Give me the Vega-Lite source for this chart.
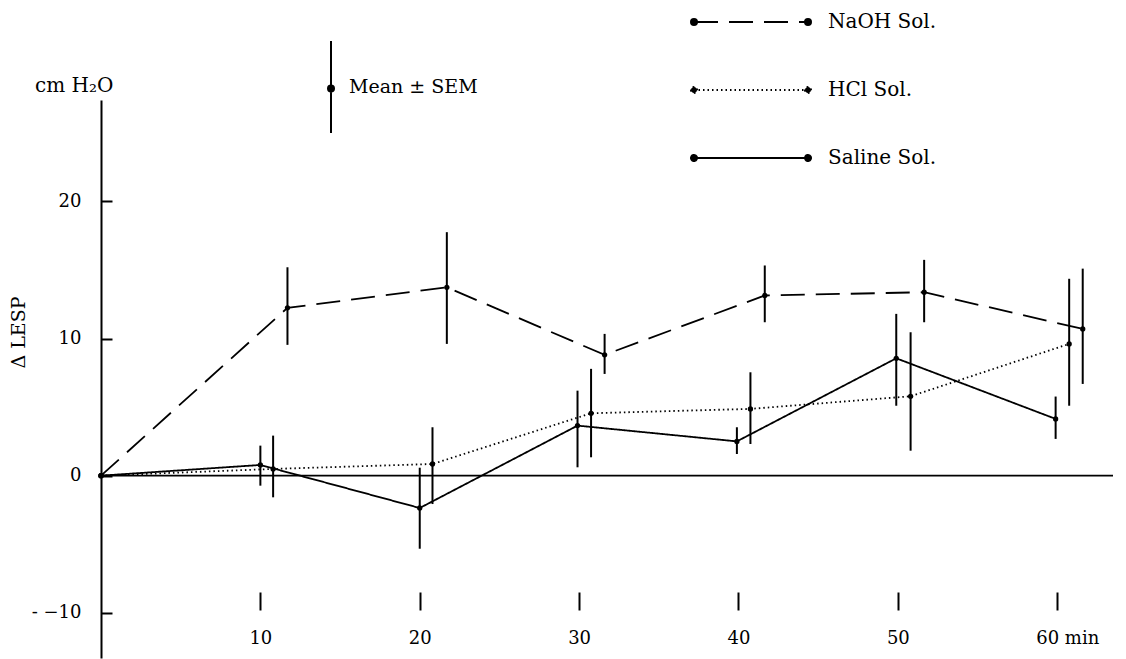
{
  "$schema": "https://vega.github.io/schema/vega-lite/v6.json",
  "width": 1012,
  "height": 558,
  "autosize": {"type": "none"},
  "padding": {"left": 101, "top": 100, "right": 13, "bottom": 1},
  "background": "white",
  "config": {
    "view": {"stroke": null},
    "font": "DejaVu Serif",
    "axis": {
      "labelFont": "DejaVu Serif",
      "labelFontSize": 18,
      "labelColor": "black",
      "domainColor": "black",
      "tickColor": "black",
      "grid": false
    }
  },
  "title": {
    "text": "cm H₂O",
    "anchor": "start",
    "frame": "group",
    "dx": -66,
    "offset": -101,
    "baseline": "alphabetic",
    "font": "DejaVu Serif",
    "fontSize": 20,
    "fontWeight": "normal",
    "color": "black"
  },
  "data": {
    "values": [
      {"series": "Saline Sol.", "t": 0, "mean": 0, "lo": null, "hi": null},
      {"series": "Saline Sol.", "t": 10.0, "mean": 0.78, "lo": -0.73, "hi": 2.19},
      {"series": "Saline Sol.", "t": 20.0, "mean": -2.36, "lo": -5.33, "hi": 0.58},
      {"series": "Saline Sol.", "t": 29.9, "mean": 3.65, "lo": 0.61, "hi": 6.2},
      {"series": "Saline Sol.", "t": 39.9, "mean": 2.5, "lo": 1.58, "hi": 3.53},
      {"series": "Saline Sol.", "t": 49.9, "mean": 8.56, "lo": 5.1, "hi": 11.8},
      {"series": "Saline Sol.", "t": 59.9, "mean": 4.14, "lo": 2.68, "hi": 5.77},
      {"series": "HCl Sol.", "t": 0, "mean": 0, "lo": null, "hi": null},
      {"series": "HCl Sol.", "t": 10.8, "mean": 0.49, "lo": -1.58, "hi": 2.92},
      {"series": "HCl Sol.", "t": 20.8, "mean": 0.85, "lo": -2.07, "hi": 3.53},
      {"series": "HCl Sol.", "t": 30.75, "mean": 4.55, "lo": 1.34, "hi": 7.79},
      {"series": "HCl Sol.", "t": 40.75, "mean": 4.87, "lo": 2.31, "hi": 7.54},
      {"series": "HCl Sol.", "t": 50.8, "mean": 5.79, "lo": 1.82, "hi": 10.46},
      {"series": "HCl Sol.", "t": 60.75, "mean": 9.61, "lo": 5.1, "hi": 14.36},
      {"series": "NaOH Sol.", "t": 0, "mean": 0, "lo": null, "hi": null},
      {"series": "NaOH Sol.", "t": 11.7, "mean": 12.24, "lo": 9.54, "hi": 15.2},
      {"series": "NaOH Sol.", "t": 21.7, "mean": 13.74, "lo": 9.61, "hi": 17.76},
      {"series": "NaOH Sol.", "t": 31.6, "mean": 8.81, "lo": 7.42, "hi": 10.34},
      {"series": "NaOH Sol.", "t": 41.65, "mean": 13.14, "lo": 11.19, "hi": 15.33},
      {"series": "NaOH Sol.", "t": 51.65, "mean": 13.38, "lo": 11.19, "hi": 15.74},
      {"series": "NaOH Sol.", "t": 61.6, "mean": 10.7, "lo": 6.69, "hi": 15.1}
    ]
  },
  "layer": [
    {
      "data": {"values": [{}]},
      "mark": {"type": "rule", "color": "black", "strokeWidth": 1.8},
      "encoding": {"y": {"datum": 0, "type": "quantitative"}}
    },
    {
      "mark": {"type": "line", "color": "black", "strokeWidth": 1.8},
      "encoding": {
        "x": {
          "field": "t",
          "type": "quantitative",
          "scale": {"domain": [0, 63.5], "nice": false, "zero": false},
          "axis": {
            "values": [10, 20, 30, 40, 50, 60],
            "domain": false,
            "offset": -66,
            "tickSize": 18,
            "tickWidth": 2,
            "labelPadding": 19,
            "labelFlush": false,
            "labelExpr": "datum.value == 60 ? '60  min' : datum.label",
            "labelOffset": {"condition": {"test": "datum.value == 60", "value": 10}, "value": 0},
            "title": null
          }
        },
        "y": {
          "field": "mean",
          "type": "quantitative",
          "scale": {"domain": [-13.3, 27.4], "nice": false, "zero": false},
          "axis": {
            "values": [-10, 0, 10, 20],
            "labelExpr": "datum.value == -10 ? '-  −10' : datum.label",
            "tickSize": -11,
            "tickWidth": 2,
            "domainWidth": 2,
            "labelPadding": 31,
            "title": "Δ LESP",
            "titleAngle": 270,
            "titleX": -83,
            "titleY": 232,
            "titleAlign": "center",
            "titleBaseline": "middle",
            "titleFont": "DejaVu Serif",
            "titleFontSize": 19,
            "titleFontWeight": "normal",
            "titleColor": "black"
          }
        },
        "strokeDash": {
          "field": "series",
          "type": "nominal",
          "scale": {
            "domain": ["NaOH Sol.", "HCl Sol.", "Saline Sol."],
            "range": [[24, 11], [1.5, 3], [1, 0]]
          },
          "legend": {
            "title": null,
            "orient": "none",
            "legendX": 639,
            "legendY": -89,
            "direction": "vertical",
            "padding": 0,
            "offset": 0,
            "symbolType": "M-5.7,0H5.7M-6,0a0.3,0.3 0 1,0 0.6,0a0.3,0.3 0 1,0 -0.6,0M5.4,0a0.3,0.3 0 1,0 0.6,0a0.3,0.3 0 1,0 -0.6,0",
            "symbolSize": 400,
            "symbolStrokeWidth": 2,
            "symbolStrokeColor": "black",
            "symbolFillColor": "black",
            "labelOffset": 66,
            "labelFont": "DejaVu Serif",
            "labelFontSize": 20,
            "labelColor": "black",
            "rowPadding": 47,
            "encode": {"symbols": {"update": {"fill": {"value": "black"}, "stroke": {"value": "black"}}}}
          }
        }
      }
    },
    {
      "transform": [
        {"filter": "datum.lo != null"},
        {"calculate": "'Mean ± SEM'", "as": "stat"}
      ],
      "mark": {"type": "rule", "strokeWidth": 2},
      "encoding": {
        "x": {"field": "t", "type": "quantitative"},
        "y": {"field": "lo", "type": "quantitative", "title": "Δ LESP"},
        "y2": {"field": "hi"},
        "color": {
          "field": "stat",
          "type": "nominal",
          "scale": {"range": ["black"]},
          "legend": {
            "title": null,
            "orient": "none",
            "legendX": 219,
            "legendY": -24,
            "padding": 0,
            "offset": 0,
            "symbolType": "M0,-4.6V4.6M-0.3,0.16a0.3,0.3 0 1,0 0.6,0a0.3,0.3 0 1,0 -0.6,0",
            "symbolSize": 400,
            "symbolStrokeWidth": 2,
            "labelOffset": 7,
            "labelFont": "DejaVu Serif",
            "labelFontSize": 19,
            "labelColor": "black",
            "encode": {"symbols": {"update": {"fill": {"value": "black"}, "stroke": {"value": "black"}}}}
          }
        }
      }
    },
    {
      "mark": {"type": "point", "filled": true, "size": 28, "color": "black", "opacity": 1},
      "encoding": {
        "x": {"field": "t", "type": "quantitative"},
        "y": {"field": "mean", "type": "quantitative"}
      }
    }
  ]
}
